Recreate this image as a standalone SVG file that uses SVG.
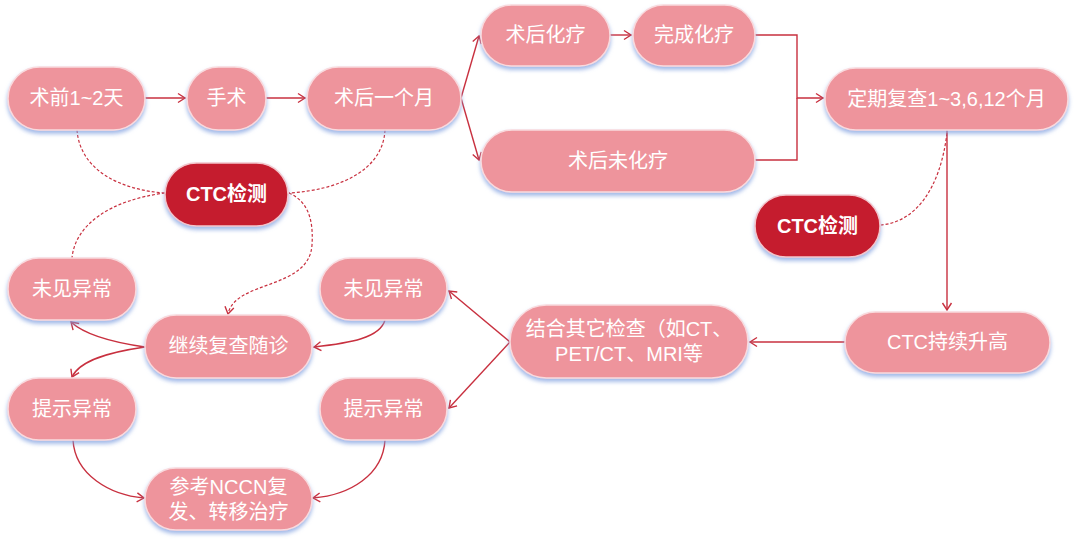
<svg xmlns="http://www.w3.org/2000/svg" width="1080" height="544" viewBox="0 0 1080 544">
<defs>
<filter id="sh" x="-20%" y="-30%" width="140%" height="170%">
<feDropShadow dx="0" dy="3" stdDeviation="2" flood-color="#7f9fe0" flood-opacity="0.75"/>
</filter>
<marker id="arr" markerWidth="12" markerHeight="12" refX="9" refY="6" orient="auto" markerUnits="userSpaceOnUse">
<path d="M2,1.5 L9,6 L2,10.5" fill="none" stroke="#c8303f" stroke-width="1.4"/>
</marker>
</defs>
<style>
.n{fill:#ee949c;stroke:#f9dadd;stroke-width:1.5;filter:url(#sh)}
.d{fill:#c51b2f;stroke:#f2c6cb;stroke-width:1.5;filter:url(#sh)}
.t{fill:#fff;font-family:"Liberation Sans","Noto Sans CJK SC",sans-serif;font-size:20px;text-anchor:middle}
.b{font-weight:bold}
.c{fill:none;stroke:#c8303f;stroke-width:1.4}
.a{marker-end:url(#arr)}
.ds{stroke-dasharray:3 2;stroke-width:1.2}
</style>
<rect width="1080" height="544" fill="#fff"/>
<g id="connectors">
<path class="c a" d="M145,98 H185"/>
<path class="c a" d="M266,98 H305"/>
<path class="c a" d="M461,98 L479,36"/>
<path class="c a" d="M461,98 L479,160"/>
<path class="c a" d="M610,35 H631"/>
<path class="c a" d="M755,35 H797 V98 H823"/>
<path class="c" d="M755,160 H797 V98"/>
<path class="c a" d="M947,130 V310"/>
<path class="c ds" d="M947,133 C940,190 915,222 881,225"/>
<path class="c a" d="M845,342 H750"/>
<path class="c a" d="M510,342 L449,291"/>
<path class="c a" d="M510,342 L449,408"/>
<path class="c a" d="M385,320 C380,338 350,343 314,347"/>
<path class="c a" d="M145,347 C110,342 85,335 71,322"/>
<path class="c a" d="M145,347 C110,352 80,360 72,377"/>
<path class="c a" d="M73,440 C75,475 110,495 144,498"/>
<path class="c a" d="M385,440 C383,475 350,495 313,498"/>
<path class="c ds" d="M77,130 C80,170 120,190 165,193"/>
<path class="c ds" d="M385,130 C383,170 340,190 289,193"/>
<path class="c ds" d="M165,193 C110,200 75,225 72,258"/>
<path class="c ds a" d="M289,193 C305,200 314,215 312,245 C309,290 235,280 228,314"/>
</g>
<g id="n1"><rect class="n" x="8" y="67" width="137" height="63" rx="31.5"/><text class="t" x="76.5" y="105">术前1~2天</text></g>
<g id="n2"><rect class="n" x="187" y="67" width="79" height="63" rx="31.5"/><text class="t" x="226.5" y="105">手术</text></g>
<g id="n3"><rect class="n" x="307" y="67" width="154" height="63" rx="31.5"/><text class="t" x="384" y="105">术后一个月</text></g>
<g id="n4"><rect class="n" x="481" y="5" width="129" height="61" rx="30.5"/><text class="t" x="545.5" y="42">术后化疗</text></g>
<g id="n5"><rect class="n" x="633" y="5" width="122" height="61" rx="30.5"/><text class="t" x="694" y="42">完成化疗</text></g>
<g id="n6"><rect class="n" x="481" y="130" width="274" height="62" rx="31"/><text class="t" x="618" y="168">术后未化疗</text></g>
<g id="n7"><rect class="n" x="825" y="68" width="243" height="62" rx="31"/><text class="t" x="946.5" y="106">定期复查1~3,6,12个月</text></g>
<g id="n8"><rect class="d" x="755" y="195" width="125" height="62" rx="31"/><text class="t b" x="817.5" y="233">CTC检测</text></g>
<g id="n9"><rect class="n" x="845" y="312" width="205" height="61" rx="30.5"/><text class="t" x="947.5" y="349">CTC持续升高</text></g>
<g id="n10"><rect class="n" x="510" y="305" width="238" height="73" rx="36.5"/><text class="t" x="629" y="336">结合其它检查（如CT、</text><text class="t" x="629" y="361">PET/CT、MRI等</text></g>
<g id="n11"><rect class="d" x="165" y="163" width="123" height="63" rx="31.5"/><text class="t b" x="226.5" y="201">CTC检测</text></g>
<g id="n12"><rect class="n" x="8" y="258" width="128" height="62" rx="31"/><text class="t" x="72" y="296">未见异常</text></g>
<g id="n13"><rect class="n" x="145" y="315" width="167" height="63" rx="31.5"/><text class="t" x="228.5" y="353">继续复查随诊</text></g>
<g id="n14"><rect class="n" x="320" y="258" width="127" height="62" rx="31"/><text class="t" x="383.5" y="296">未见异常</text></g>
<g id="n15"><rect class="n" x="8" y="378" width="128" height="62" rx="31"/><text class="t" x="72" y="416">提示异常</text></g>
<g id="n16"><rect class="n" x="320" y="378" width="127" height="62" rx="31"/><text class="t" x="383.5" y="416">提示异常</text></g>
<g id="n17"><rect class="n" x="145" y="468" width="167" height="62" rx="31"/><text class="t" x="228.5" y="494">参考NCCN复</text><text class="t" x="228.5" y="519">发、转移治疗</text></g>
</svg>
